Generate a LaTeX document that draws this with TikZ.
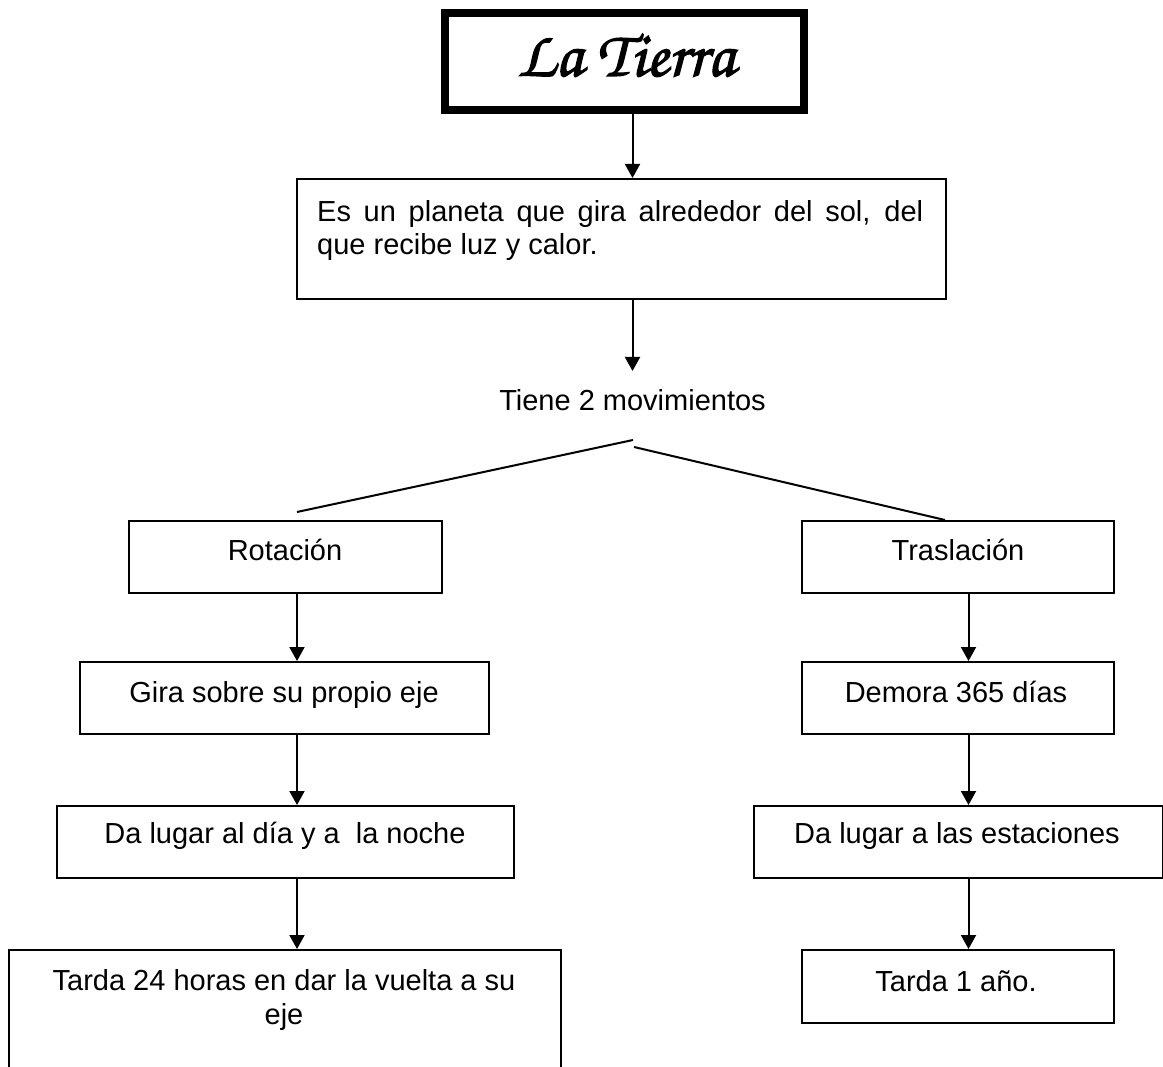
\documentclass[tikz,border=0pt]{standalone}
\usepackage[T1]{fontenc}
\usepackage{fontspec}
\setmainfont{Liberation Sans}
\usetikzlibrary{arrows.meta}
\newcommand\mytitlefont{\fontencoding{T1}\fontfamily{pzc}\fontseries{mb}\fontshape{it}\fontsize{65}{70}\selectfont}
\newcommand\myheavy[1]{\special{pdf:literal direct 2 Tr 1.2 w}#1\special{pdf:literal direct 0 Tr}}
\begin{document}
\begin{tikzpicture}[x=1pt,y=-1pt,
  font=\fontsize{29}{34}\selectfont,
  box/.style={draw, line width=2pt, inner sep=0pt, anchor=north west},
  lbl/.style={anchor=base, inner sep=0pt},
  arr/.style={line width=2pt, -{Triangle[length=14pt,width=15pt]}},
  branch/.style={line width=2pt}]
\clip (0,0) rectangle (1163,1067);
\fill[white] (0,0) rectangle (1163,1067);
% title
\node[draw, line width=8pt, inner sep=0pt, anchor=north west,
      minimum width=358.5pt, minimum height=97pt] (title) at (441,9) {};
\node[lbl, font=\mytitlefont] (titlet) at (626,76) {\myheavy{La Tierra}};
% description box
\node[box, minimum width=649pt, minimum height=120pt] (b2) at (296,178) {};
\node[anchor=base west, inner sep=0pt] (b2ta) at (317,222)
  {\makebox[606pt][s]{Es un planeta que gira alrededor del sol, del}};
\node[anchor=base west, inner sep=0pt] (b2tb) at (317,255) {que recibe luz y calor.};
% Tiene 2 movimientos
\node[lbl] (tiene) at (632.5,411) {Tiene 2 movimientos};
\coordinate (spine) at (632.5,0);
\draw[arr] (title.south -| spine) -- (b2.north -| spine);
\draw[arr] (b2.south -| spine) -- (632.5,371) coordinate (tieneTop);
% branch lines
\coordinate (bl1) at (633,440);
\coordinate (bl2) at (297,512);
\coordinate (br1) at (634,447);
% left column
\node[box, minimum width=313pt, minimum height=72pt] (rot) at (128,520) {};
\node[lbl] (rott) at (285,560) {Rotación};
\node[box, minimum width=409pt, minimum height=72pt] (gira) at (79,661) {};
\node[lbl] (girat) at (284,702) {Gira sobre su propio eje};
\node[box, minimum width=457pt, minimum height=72pt] (dal) at (56,805) {};
\node[lbl] (dalt) at (285,843) {Da lugar al día y a\ \ la noche};
\node[box, minimum width=552pt, minimum height=160pt] (t24) at (8,949) {};
\node[lbl] (t24a) at (284,990) {Tarda 24 horas en dar la vuelta a su};
\node[lbl] (t24b) at (284,1024) {eje};
% right column
\node[box, minimum width=312pt, minimum height=72pt] (tras) at (801,520) {};
\node[lbl] (trast) at (958,560) {Traslación};
\node[box, minimum width=312pt, minimum height=72pt] (dem) at (801,661) {};
\node[lbl] (demt) at (956,702) {Demora 365 días};
\node[box, minimum width=409pt, minimum height=72pt] (dar) at (753,805) {};
\node[lbl] (dart) at (957,843) {Da lugar a las estaciones};
\node[box, minimum width=312pt, minimum height=73pt] (t1) at (801,949) {};
\node[lbl] (t1t) at (956,991) {Tarda 1 año.};
% branch connectors
\draw[branch] (bl1) -- (bl2);
\draw[branch] (br1) -- (tras.north -| 945,0);
% vertical arrows
\coordinate (lx) at (297,0);
\coordinate (rx) at (968.5,0);
\draw[arr] (rot.south -| lx) -- (gira.north -| lx);
\draw[arr] (gira.south -| lx) -- (dal.north -| lx);
\draw[arr] (dal.south -| lx) -- (t24.north -| lx);
\draw[arr] (tras.south -| rx) -- (dem.north -| rx);
\draw[arr] (dem.south -| rx) -- (dar.north -| rx);
\draw[arr] (dar.south -| rx) -- (t1.north -| rx);
\end{tikzpicture}
\end{document}
